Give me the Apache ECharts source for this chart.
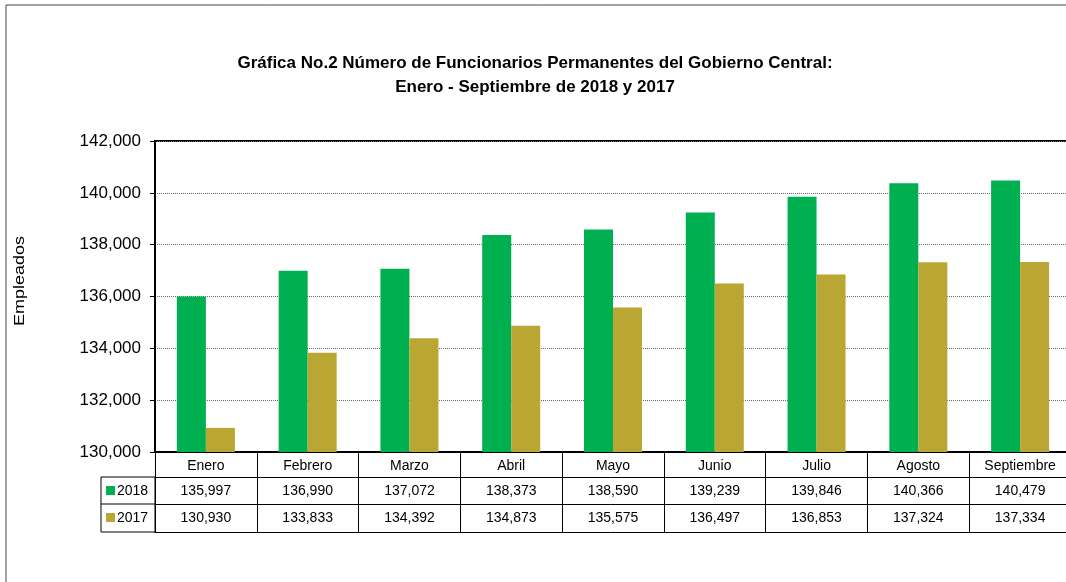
<!DOCTYPE html>
<html>
<head>
<meta charset="utf-8">
<script src="https://cdn.jsdelivr.net/npm/echarts@6/dist/echarts.min.js"></script>
<style>
  html, body { margin: 0; padding: 0; background: #fff; }
  #main { width: 1066px; height: 582px; }
</style>
</head>
<body>
<div id="main"></div>
<script>
const months = ['Enero', 'Febrero', 'Marzo', 'Abril', 'Mayo', 'Junio', 'Julio', 'Agosto', 'Septiembre'];
const vals2018 = [135997, 136990, 137072, 138373, 138590, 139239, 139846, 140366, 140479];
const vals2017 = [130930, 133833, 134392, 134873, 135575, 136497, 136853, 137324, 137334];
const green = '#00B050';
const gold = '#BAA633';

const fmt = v => v.toLocaleString('en-US');
const font = 'Liberation Sans, Arial, sans-serif';

// grid layout (pixels) - plot runs a little past the right edge, like the original
const G = { left: 155, top: 141, width: 916, height: 311 };
const rowH = [25, 27, 28]; // header, 2018, 2017

const chart = echarts.init(document.getElementById('main'));

function tableAxis(offset, labels) {
  return {
    type: 'category',
    data: months,
    position: 'bottom',
    offset: offset,
    axisLine: { show: true, lineStyle: { color: '#000', width: 1 } },
    axisTick: { show: false },
    axisLabel: labels ? {
      show: true, interval: 0, margin: 7, color: '#000', fontSize: 14, fontFamily: font,
      formatter: (v, i) => labels[i]
    } : { show: false },
    splitLine: { show: false }
  };
}

chart.setOption({
  animation: false,
  title: {
    text: 'Gráfica No.2 Número de Funcionarios Permanentes del Gobierno Central:\nEnero - Septiembre de 2018 y 2017',
    left: 530,
    top: 46,
    textAlign: 'center',
    textStyle: { fontFamily: font, fontSize: 17, fontWeight: 'bold', color: '#000', lineHeight: 24 }
  },
  grid: {
    left: G.left, top: G.top, width: G.width, height: G.height,
    outerBoundsMode: 'none',
    show: true, borderColor: '#000', borderWidth: 2, backgroundColor: 'transparent'
  },
  xAxis: [
    {
      type: 'category',
      data: months,
      position: 'bottom',
      axisLine: { show: true, lineStyle: { color: '#000', width: 2 } },
      axisTick: { show: true, length: rowH[0] + rowH[1] + rowH[2], interval: 0, lineStyle: { color: '#000', width: 1 } },
      axisLabel: { show: true, interval: 0, margin: 7, color: '#000', fontSize: 14, fontFamily: font }
    },
    tableAxis(rowH[0], vals2018.map(fmt)),
    tableAxis(rowH[0] + rowH[1], vals2017.map(fmt)),
    tableAxis(rowH[0] + rowH[1] + rowH[2], null)
  ],
  yAxis: {
    type: 'value',
    min: 130000,
    max: 142000,
    interval: 2000,
    axisLine: { show: true, lineStyle: { color: '#000', width: 2 } },
    axisTick: { show: true, length: 5, lineStyle: { color: '#000' } },
    axisLabel: { color: '#000', fontSize: 17, fontFamily: font, margin: 14, formatter: v => fmt(v) },
    splitLine: { show: true, lineStyle: { color: '#666', type: 'dotted', width: 1 } }
  },
  series: [
    { name: '2018', type: 'bar', xAxisIndex: 0, data: vals2018, barWidth: 29, barGap: '0%', itemStyle: { color: green } },
    { name: '2017', type: 'bar', xAxisIndex: 0, data: vals2017, barWidth: 29, barGap: '0%', itemStyle: { color: gold } }
  ],
  graphic: [
    // outer chart frame
    { type: 'rect', shape: { x: 6, y: 5, width: 1100, height: 600 }, style: { fill: 'none', stroke: '#444', lineWidth: 1 }, silent: true },
    // y axis title
    { type: 'text', x: 20, y: 281, rotation: Math.PI / 2, scaleX: 1.2,
      style: { text: 'Empleados', fontFamily: font, fontSize: 15, fill: '#000', align: 'center', verticalAlign: 'middle' } },
    // legend column of the data table
    { type: 'rect', shape: { x: 101, y: G.top + G.height + rowH[0], width: G.left - 101, height: rowH[1] + rowH[2] },
      style: { fill: 'none', stroke: '#000', lineWidth: 1 } },
    { type: 'line', shape: { x1: 101, y1: G.top + G.height + rowH[0] + rowH[1], x2: G.left, y2: G.top + G.height + rowH[0] + rowH[1] },
      style: { stroke: '#000', lineWidth: 1 } },
    { type: 'rect', shape: { x: 106, y: G.top + G.height + rowH[0] + 9, width: 9, height: 9 }, style: { fill: green } },
    { type: 'text', x: 117, y: G.top + G.height + rowH[0] + 14,
      style: { text: '2018', fontFamily: font, fontSize: 14, fill: '#000', verticalAlign: 'middle' } },
    { type: 'rect', shape: { x: 106, y: G.top + G.height + rowH[0] + rowH[1] + 9, width: 9, height: 9 }, style: { fill: gold } },
    { type: 'text', x: 117, y: G.top + G.height + rowH[0] + rowH[1] + 14,
      style: { text: '2017', fontFamily: font, fontSize: 14, fill: '#000', verticalAlign: 'middle' } }
  ]
});
</script>
</body>
</html>
